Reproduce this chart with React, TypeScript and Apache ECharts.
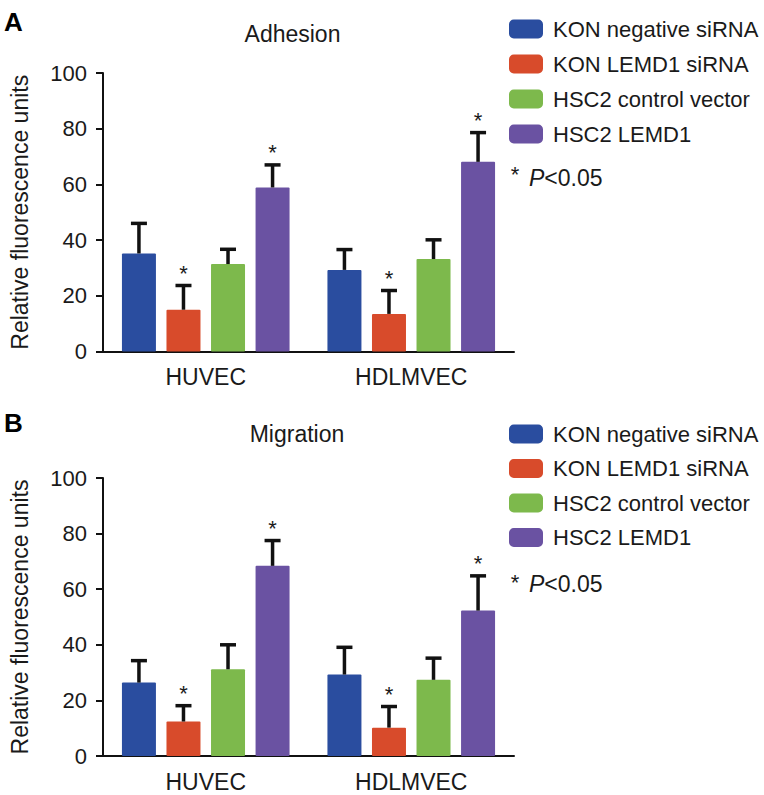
import React, { useEffect, useRef } from "react";
import * as echarts from "echarts";

// ---- data ----
const categories = ["HUVEC", "HDLMVEC"];
const seriesNames = [
  "KON negative siRNA",
  "KON LEMD1 siRNA",
  "HSC2 control vector",
  "HSC2 LEMD1",
];
const seriesColors = ["#2a4d9f", "#d84b2b", "#7db94c", "#6a52a2"];

// Adhesion (panel A): means per series [HUVEC, HDLMVEC]
const adhesionMeans = [
  [35.2, 29.3],
  [15.0, 13.5],
  [31.4, 33.2],
  [58.9, 68.1],
];
const adhesionErrors = [
  [10.8, 7.3],
  [8.7, 8.4],
  [5.3, 6.9],
  [8.1, 10.5],
];
// Migration (panel B)
const migrationMeans = [
  [26.4, 29.3],
  [12.4, 10.2],
  [31.2, 27.4],
  [68.4, 52.3],
];
const migrationErrors = [
  [7.9, 9.8],
  [5.7, 7.6],
  [8.8, 7.8],
  [9.1, 12.5],
];
// significance stars (P<0.05)
const adhesionStars = [
  [false, false],
  [true, true],
  [false, false],
  [true, true],
];
const migrationStars = [
  [false, false],
  [true, true],
  [false, false],
  [true, true],
];
const yTicks = { min: 0, max: 100, interval: 20 };

// ---- styling constants ----
const FONT = "'Liberation Sans', Arial, Helvetica, sans-serif";
const BAR_WIDTH = 34;
const BAR_GAP_RATIO = 0.31;
const TXT = "#1a1a1a";

export default function App() {
  const ref = useRef<HTMLDivElement>(null);

  useEffect(() => {
    if (!ref.current) return;
    const chart = echarts.init(ref.current, null, { renderer: "svg" });

    const panels = [
      { means: adhesionMeans, errs: adhesionErrors, stars: adhesionStars },
      { means: migrationMeans, errs: migrationErrors, stars: migrationStars },
    ];

    const grids = [
      { left: 95, right: 250, top: 73, height: 278.5 },
      { left: 95, right: 250, top: 478, height: 278 },
    ];

    const xAxes = grids.map((_, gi) => ({
      type: "category",
      gridIndex: gi,
      data: categories,
      axisLine: { lineStyle: { color: "#111", width: 2 } },
      axisTick: { alignWithLabel: true, length: 5, lineStyle: { color: "#111", width: 2 } },
      axisLabel: { fontSize: 23, color: TXT, margin: 14, fontFamily: FONT },
      splitLine: { show: false },
    }));

    const yAxes = grids.map((_, gi) => ({
      type: "value",
      gridIndex: gi,
      min: yTicks.min,
      max: yTicks.max,
      interval: yTicks.interval,
      name: "Relative fluorescence units",
      nameLocation: "middle",
      nameGap: 72,
      nameTextStyle: { fontSize: 23, color: TXT, fontFamily: FONT },
      axisLine: { show: true, lineStyle: { color: "#111", width: 2 } },
      axisTick: { show: true, length: 7, lineStyle: { color: "#111", width: 2 } },
      axisLabel: { fontSize: 22, color: TXT, margin: 16, fontFamily: FONT },
      splitLine: { show: false },
    }));

    const series: any[] = [];
    panels.forEach((p, gi) => {
      seriesNames.forEach((name, si) => {
        series.push({
          type: "bar",
          name,
          xAxisIndex: gi,
          yAxisIndex: gi,
          data: p.means[si],
          barWidth: BAR_WIDTH,
          barGap: `${BAR_GAP_RATIO * 100}%`,
          itemStyle: { color: seriesColors[si], borderRadius: 1 },
          z: 2,
        });
      });
      const errData: any[] = [];
      seriesNames.forEach((_, si) => {
        categories.forEach((_, ci) => {
          errData.push([
            ci,
            p.means[si][ci],
            p.means[si][ci] + p.errs[si][ci],
            si,
            p.stars[si][ci] ? 1 : 0,
          ]);
        });
      });
      series.push({
        type: "custom",
        name: "errors" + gi,
        xAxisIndex: gi,
        yAxisIndex: gi,
        data: errData,
        encode: { x: 0, y: 2 },
        z: 3,
        renderItem: (params: any, api: any) => {
          const ci = api.value(0);
          const mean = api.value(1);
          const upper = api.value(2);
          const si = api.value(3);
          const star = api.value(4);
          const base = api.coord([ci, mean]);
          const top = api.coord([ci, upper]);
          const step = BAR_WIDTH * (1 + BAR_GAP_RATIO);
          const x = base[0] + (si - 1.5) * step;
          const children: any[] = [
            {
              type: "line",
              shape: { x1: x, y1: base[1], x2: x, y2: top[1] },
              style: { stroke: "#111", lineWidth: 3.5 },
            },
            {
              type: "line",
              shape: { x1: x - 8, y1: top[1], x2: x + 8, y2: top[1] },
              style: { stroke: "#111", lineWidth: 3.5 },
            },
          ];
          if (star) {
            children.push({
              type: "text",
              style: {
                text: "*",
                x: x,
                y: top[1] - 12,
                fontSize: 22,
                fontFamily: FONT,
                fill: TXT,
                textAlign: "center",
                textVerticalAlign: "middle",
              },
            });
          }
          return { type: "group", children };
        },
      });
    });

    const legendBase = {
      orient: "vertical",
      left: 504,
      itemWidth: 34,
      itemHeight: 19,
      icon: "roundRect",
      selectedMode: false,
      data: seriesNames,
      textStyle: { fontSize: 22, lineHeight: 19, color: TXT, fontFamily: FONT, padding: [0, 0, 0, 5] },
    };

    const text = (t: string, x: number, y: number, extra: any = {}) => ({
      type: "text",
      x,
      y,
      style: {
        text: t,
        fontSize: 23,
        fontFamily: FONT,
        fill: TXT,
        textVerticalAlign: "middle",
        ...extra,
      },
    });

    const option: any = {
      animation: false,
      backgroundColor: "#ffffff",
      textStyle: { fontFamily: FONT },
      grid: grids,
      xAxis: xAxes,
      yAxis: yAxes,
      legend: [
        { ...legendBase, top: 13, itemGap: 13 },
        { ...legendBase, top: 418, itemGap: 12.5 },
      ],
      series,
      graphic: [
        text("A", 4, 21.5, { fontSize: 26, fontWeight: "bold", fill: "#000" }),
        text("B", 4, 423, { fontSize: 26, fontWeight: "bold", fill: "#000" }),
        text("Adhesion", 292.5, 33.5, { textAlign: "center" }),
        text("Migration", 297, 434, { textAlign: "center" }),
        text("*", 515, 174, { textAlign: "center", fontSize: 22 }),
        text("{i|P}<0.05", 529, 177.5, {
          rich: { i: { fontStyle: "italic", fontSize: 23, fontFamily: FONT, fill: TXT } },
        }),
        text("*", 515, 582, { textAlign: "center", fontSize: 22 }),
        text("{i|P}<0.05", 529, 583.5, {
          rich: { i: { fontStyle: "italic", fontSize: 23, fontFamily: FONT, fill: TXT } },
        }),
      ],
    };

    chart.setOption(option);
    return () => chart.dispose();
  }, []);

  return (
    <div
      ref={ref}
      style={{ position: "fixed", left: 0, top: 0, width: 764, height: 795, background: "#fff" }}
    />
  );
}
